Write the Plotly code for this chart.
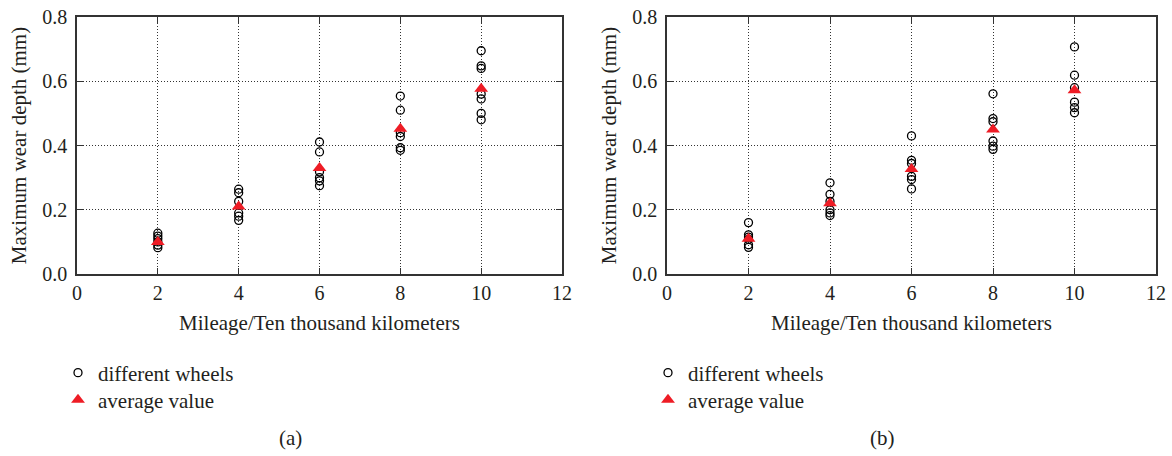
import plotly.graph_objects as go

mileage = [2, 4, 6, 8, 10]

# panel (a): wear depth of different wheels at each mileage
wheels_a = [
    [0.127, 0.118, 0.110, 0.100, 0.090, 0.082],
    [0.264, 0.253, 0.226, 0.190, 0.180, 0.167],
    [0.411, 0.380, 0.318, 0.300, 0.290, 0.275],
    [0.554, 0.510, 0.440, 0.428, 0.393, 0.385],
    [0.695, 0.648, 0.640, 0.560, 0.545, 0.500, 0.480],
]
avg_a = [0.100, 0.210, 0.330, 0.452, 0.577]

# panel (b)
wheels_b = [
    [0.160, 0.122, 0.115, 0.108, 0.091, 0.083],
    [0.284, 0.248, 0.226, 0.200, 0.190, 0.182],
    [0.430, 0.354, 0.344, 0.304, 0.294, 0.265],
    [0.561, 0.484, 0.474, 0.414, 0.398, 0.388],
    [0.707, 0.619, 0.580, 0.535, 0.518, 0.502],
]
avg_b = [0.110, 0.220, 0.327, 0.450, 0.572]

x_ticks = [0, 2, 4, 6, 8, 10, 12]
y_ticks = [0.0, 0.2, 0.4, 0.6, 0.8]
y_ticklabels = ["0.0", "0.2", "0.4", "0.6", "0.8"]

FONT = "Liberation Serif"
TXT = "#231f20"
W, H = 1172, 456


def px(x):
    return x / W


def py(y):
    return 1 - y / H


fig = go.Figure()


def flatten(xs, groups):
    fx, fy = [], []
    for x, g in zip(xs, groups):
        fx += [x] * len(g)
        fy += g
    return fx, fy


for suffix, wheels, avg, legs in [("", wheels_a, avg_a, ("legend", "legend2")),
                                  ("2", wheels_b, avg_b, ("legend3", "legend4"))]:
    fx, fy = flatten(mileage, wheels)
    fig.add_trace(go.Scatter(
        x=fx, y=fy, mode="markers", name="different wheels",
        xaxis="x" + suffix, yaxis="y" + suffix, legend=legs[0],
        marker=dict(symbol="circle-open", size=8, color="black", line=dict(width=1.3, color="black")),
    ))
    fig.add_trace(go.Scatter(
        x=mileage, y=avg, mode="markers", name="average value",
        xaxis="x" + suffix, yaxis="y" + suffix, legend=legs[1],
        marker=dict(symbol="triangle-up", size=12, color="#ee1c25"),
    ))

ydom = [py(274), py(17)]
doms = [[px(77), px(562)], [px(667), px(1156)]]

axis_common = dict(
    showline=True, linecolor="#333333", linewidth=1.5, mirror="ticks",
    ticks="inside", ticklen=6, tickcolor="#333333", tickwidth=1.2,
    showgrid=True, gridcolor="#333333", griddash="1px,2px", gridwidth=1,
    zeroline=False, automargin=False, ticklabeloverflow="allow",
    tickfont=dict(family=FONT, size=20, color=TXT),
)

for i, dom in enumerate(doms):
    s = "" if i == 0 else str(i + 1)
    xa = dict(axis_common)
    xa.update(domain=dom, range=[0, 12], tickvals=x_ticks, anchor="y" + s,
              title=dict(text="Mileage/Ten thousand kilometers",
                         font=dict(family=FONT, size=21, color=TXT), standoff=13))
    ya = dict(axis_common)
    ya.update(domain=ydom, range=[0, 0.8001], tickvals=y_ticks, ticktext=y_ticklabels,
              anchor="x" + s, ticklabelstandoff=4,
              title=dict(text="Maximum wear depth (mm)",
                         font=dict(family=FONT, size=21, color=TXT), standoff=10))
    fig.layout["xaxis" + s] = xa
    fig.layout["yaxis" + s] = ya

legend_common = dict(
    font=dict(family=FONT, size=21, color=TXT),
    bgcolor="rgba(0,0,0,0)", xanchor="left", yanchor="middle",
    itemwidth=30,
)
fig.update_layout(
    legend=dict(legend_common, x=px(58), y=py(373)),
    legend2=dict(legend_common, x=px(58), y=py(400)),
    legend3=dict(legend_common, x=px(648), y=py(373)),
    legend4=dict(legend_common, x=px(648), y=py(400)),
)

for label, cx in [("(a)", 290), ("(b)", 882)]:
    fig.add_annotation(text=label, x=px(cx), y=py(438), xref="paper", yref="paper",
                       showarrow=False, font=dict(family=FONT, size=21, color=TXT),
                       xanchor="center", yanchor="middle")

fig.update_layout(
    width=W, height=H,
    margin=dict(l=0, r=0, t=0, b=0),
    paper_bgcolor="white", plot_bgcolor="white",
    showlegend=True,
)

# remove the default 8px page margin so the figure fills the window exactly
fig.write_html("out.html", config={"displayModeBar": False},
               post_script="document.body.style.margin='0';")
